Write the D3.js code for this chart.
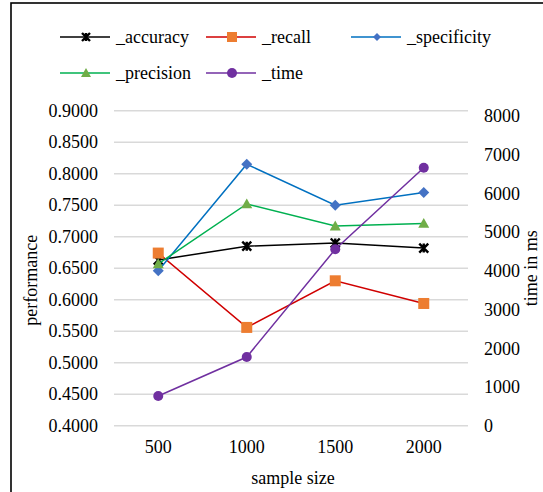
<!DOCTYPE html>
<html>
<head>
<meta charset="utf-8">
<script src="https://cdn.jsdelivr.net/npm/d3@7"></script>
<style>
  html, body { margin: 0; padding: 0; background: #fff; overflow: hidden; }
  svg { display: block; }
  svg text { font-family: "Liberation Serif", "Times New Roman", "DejaVu Serif", serif; }
</style>
</head>
<body>
<svg id="chart" width="543" height="492"></svg>
<script>
// Sample sizes along the x axis
const sampleSizes = ["500", "1000", "1500", "2000"];

// Performance metrics (left axis)
const accuracy    = [0.663, 0.685, 0.690, 0.682];
const recall      = [0.674, 0.556, 0.630, 0.594];
const specificity = [0.646, 0.815, 0.750, 0.770];
const precision   = [0.657, 0.752, 0.717, 0.721];

// Run time in ms (right axis)
const timeMs = [767, 1775, 4558, 6667];

// Axis ticks
const perfTicks = [0.40, 0.45, 0.50, 0.55, 0.60, 0.65, 0.70, 0.75, 0.80, 0.85, 0.90];
const timeTicks = [0, 1000, 2000, 3000, 4000, 5000, 6000, 7000, 8000];
const timeAxisMax = 8140;

const SERIF = "Liberation Serif, Times New Roman, DejaVu Serif, serif";
const svg = d3.select("#chart").attr("font-family", SERIF);
const plot = { left: 114, right: 468, top: 110.7, bottom: 425.7 };
const FONT = 18;

// Outer frame
svg.append("rect")
  .attr("x", 11).attr("y", 3)
  .attr("width", 600).attr("height", 600)
  .attr("fill", "none").attr("stroke", "#000").attr("stroke-width", 1.6);

const x = d3.scaleBand().domain(sampleSizes).range([plot.left, plot.right]).padding(0);
const yPerf = d3.scaleLinear().domain([0.4, 0.9]).range([plot.bottom, plot.top]);
const yTime = d3.scaleLinear().domain([0, timeAxisMax]).range([plot.bottom, plot.top]);

// Horizontal gridlines (from the left axis)
svg.append("g").selectAll("line").data(perfTicks).join("line")
  .attr("x1", plot.left).attr("x2", plot.right)
  .attr("y1", d => yPerf(d)).attr("y2", d => yPerf(d))
  .attr("stroke", "#d9d9d9").attr("stroke-width", 1.5);

function styleAxis(g) {
  g.attr("font-family", SERIF).attr("font-size", FONT);
  g.select(".domain").remove();
  g.selectAll("text").attr("font-family", SERIF).attr("font-size", FONT).attr("fill", "#000");
}

// Left axis
svg.append("g")
  .attr("transform", `translate(${plot.left},0)`)
  .call(d3.axisLeft(yPerf).tickValues(perfTicks).tickFormat(d3.format(".4f")).tickSize(0).tickPadding(16))
  .call(styleAxis);

// Right axis
svg.append("g")
  .attr("transform", `translate(${plot.right},0)`)
  .call(d3.axisRight(yTime).tickValues(timeTicks).tickFormat(d3.format("d")).tickSize(0).tickPadding(16))
  .call(styleAxis);

// Bottom axis
svg.append("g")
  .attr("transform", `translate(0,${plot.bottom})`)
  .call(d3.axisBottom(x).tickSize(0).tickPadding(15))
  .call(styleAxis);

// Axis titles
function title(sel) {
  return sel.attr("text-anchor", "middle").attr("font-size", FONT).attr("font-family", SERIF).attr("fill", "#000");
}
svg.append("text")
  .attr("transform", `translate(37,${(plot.top + plot.bottom) / 2 + 12}) rotate(-90)`)
  .call(title).text("performance");
svg.append("text")
  .attr("transform", `translate(537,${(plot.top + plot.bottom) / 2}) rotate(-90)`)
  .call(title).text("time in ms");
svg.append("text")
  .attr("x", (plot.left + plot.right) / 2 + 2).attr("y", 484)
  .call(title).text("sample size");

// Marker painters
function drawMarker(g, type, color, size) {
  const s = size;
  if (type === "star") {
    const h = s / 2;
    g.append("path")
      .attr("d", `M${-h},${-h}L${h},${h}M${-h},${h}L${h},${-h}M0,${-h}L0,${h}`)
      .attr("stroke", color).attr("stroke-width", 2.4).attr("fill", "none");
  } else if (type === "square") {
    g.append("rect").attr("x", -s / 2).attr("y", -s / 2).attr("width", s).attr("height", s)
      .attr("fill", color);
  } else if (type === "diamond") {
    const h = s / 2;
    g.append("path").attr("d", `M0,${-h}L${h},0L0,${h}L${-h},0Z`).attr("fill", color);
  } else if (type === "triangle") {
    const h = s / 2;
    g.append("path").attr("d", `M0,${-h}L${h},${h * 0.8}L${-h},${h * 0.8}Z`).attr("fill", color);
  } else if (type === "circle") {
    g.append("circle").attr("r", s / 2).attr("fill", color);
  }
}

const series = [
  { name: "_accuracy",    values: accuracy,    scale: yPerf, line: "#000000", marker: "#000000", type: "star",     size: 9 },
  { name: "_recall",      values: recall,      scale: yPerf, line: "#d00000", marker: "#ed7d31", type: "square",   size: 11 },
  { name: "_specificity", values: specificity, scale: yPerf, line: "#0070c0", marker: "#4472c4", type: "diamond",  size: 11 },
  { name: "_precision",   values: precision,   scale: yPerf, line: "#00b050", marker: "#70ad47", type: "triangle", size: 11 },
  { name: "_time",        values: timeMs,      scale: yTime, line: "#7030a0", marker: "#7030a0", type: "circle",   size: 10 }
];

const cx = c => x(c) + x.bandwidth() / 2;

series.forEach(s => {
  const pts = sampleSizes.map((c, i) => [cx(c), s.scale(s.values[i])]);
  svg.append("path")
    .attr("d", d3.line()(pts))
    .attr("fill", "none").attr("stroke", s.line).attr("stroke-width", 1.5);
  pts.forEach(p => {
    const g = svg.append("g").attr("transform", `translate(${p[0]},${p[1]})`);
    drawMarker(g, s.type, s.marker, s.size);
  });
});

// Legend
const legendPos = [
  { x: 60, y: 37 }, { x: 206, y: 37 }, { x: 351, y: 37 },
  { x: 60, y: 73 }, { x: 206, y: 73 }
];
series.forEach((s, i) => {
  const p = legendPos[i];
  const g = svg.append("g").attr("transform", `translate(${p.x},${p.y})`);
  g.append("line").attr("x1", 0).attr("x2", 50).attr("y1", 0).attr("y2", 0)
    .attr("stroke", s.line).attr("stroke-width", 1.5);
  const m = g.append("g").attr("transform", "translate(26,0)");
  drawMarker(m, s.type, s.marker, s.type === "diamond" ? 8 : (s.type === "star" ? 8 : 10));
  g.append("text").attr("x", 56).attr("y", 0).attr("dy", "0.33em")
    .attr("font-size", FONT).attr("font-family", SERIF).attr("fill", "#000").text(s.name);
});
</script>
</body>
</html>
